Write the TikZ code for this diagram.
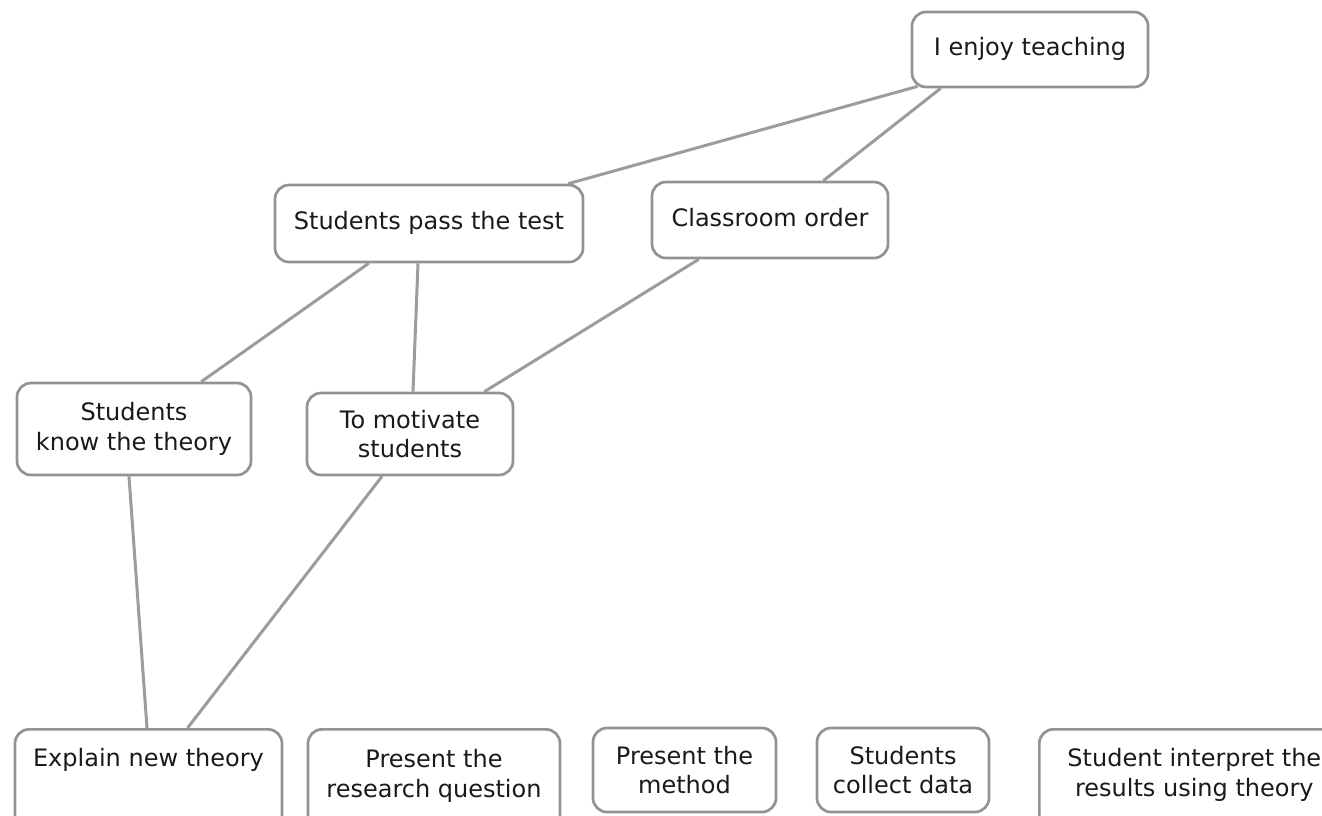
\documentclass[tikz,border=0pt]{standalone}
\usepackage{fontspec}
\setmainfont{DejaVu Sans}
\usetikzlibrary{backgrounds}
\definecolor{boxgray}{HTML}{939393}
\definecolor{linegray}{HTML}{9C9C9C}
\definecolor{textgray}{HTML}{1A1A1A}
\begin{document}
\begin{tikzpicture}[x=1pt,y=-1pt,
  box/.style={draw=boxgray, line width=2.7pt, rounded corners=14pt, fill=white,
    align=center, inner sep=0pt, text=textgray,
    font=\fontsize{24}{29.5}\selectfont},
  oneline/.style={text height=17.5pt, text depth=5.5pt},
  tallbox/.style={box, anchor=north, minimum height=100pt},
  link/.style={draw=linegray, line width=3pt}]
\useasboundingbox (0,0) rectangle (1322,815);
\clip (0,0) rectangle (1322,815);

% upper concepts
\node[box, oneline, minimum width=236pt, minimum height=75pt] (teach) at (1030,49.5) {I enjoy teaching};
\node[box, oneline, minimum width=308pt, minimum height=77pt] (pass) at (429,223.5) {Students pass the test};
\node[box, oneline, minimum width=236pt, minimum height=76pt] (order) at (770,220) {Classroom order};
\node[box, minimum width=234pt, minimum height=92pt] (know) at (134,429) {Students\\know the theory};
\node[box, minimum width=206pt, minimum height=82pt] (motiv) at (410,434) {To motivate\\students};

% lesson steps along the bottom (the tall ones run past the lower edge)
\node[tallbox, minimum width=267pt] (explain) at (148.5,728)
  {\vbox to 100pt{\vskip 19pt\hbox{Explain new theory}\vfil}};
\node[tallbox, minimum width=252pt] (question) at (434,728)
  {\vbox to 100pt{\vskip 20pt\hbox to 230pt{\hfil Present the\hfil}\hbox to 230pt{\hfil research question\hfil}\vfil}};
\node[box, minimum width=183pt, minimum height=84pt] (method) at (684.5,770) {Present the\\method};
\node[box, minimum width=172pt, minimum height=84pt] (collect) at (903,770) {Students\\collect data};
\node[tallbox, anchor=north west, minimum width=310pt] (interpret) at (1038,728)
  {\vbox to 100pt{\vskip 19pt\hbox to 290pt{\hfil Student interpret the\hfil}\hbox to 290pt{\hfil results using theory\hfil}\vfil}};

% connectors, drawn behind the boxes
\begin{scope}[on background layer]
\draw[link] ([xshift=7pt,yshift=2pt]teach.south west) -- ([xshift=-16pt]pass.north east);
\draw[link] ([xshift=30pt]teach.south west) -- ([xshift=-66pt]order.north east);
\draw[link] ([xshift=95pt]pass.south west) -- ([xshift=-51pt]know.north east);
\draw[link] ([xshift=-11pt]pass.south) -- ([xshift=3pt]motiv.north);
\draw[link] ([xshift=48pt]order.south west) -- ([xshift=-30pt]motiv.north east);
\draw[link] ([xshift=-5pt]know.south) -- ([xshift=-1.5pt]explain.north);
\draw[link] ([xshift=-28pt]motiv.south) -- ([xshift=39pt]explain.north);
\end{scope}
\end{tikzpicture}
\end{document}
